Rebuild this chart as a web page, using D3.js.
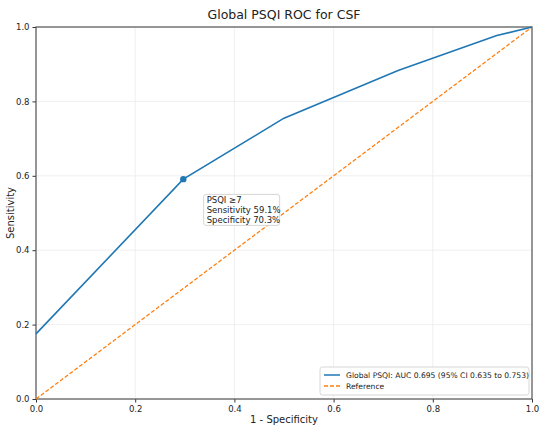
<!DOCTYPE html>
<head>
    <meta charset="utf-8">
    <script src="https://cdn.jsdelivr.net/npm/d3@7"></script>
    <style>
        body { margin: 0; background: #fff; }
        text { font-family: "DejaVu Sans", sans-serif; fill: #222; }
    </style>
</head>
<body>
    <div id="chart"></div>
    <script>
        const width = 550, height = 436;
        const margin = { top: 27, right: 18, bottom: 37, left: 36 };

        // ROC points (1 - specificity, sensitivity)
        const fpr = [0, 0.297, 0.5, 0.730, 0.929, 1];
        const tpr = [0.175, 0.591, 0.755, 0.883, 0.977, 1];
        const refX = [0, 1];
        const refY = [0, 1];
        const cutoff = { fpr: 0.297, tpr: 0.591 };
        const noteLines = ["PSQI \u22657", "Sensitivity 59.1%", "Specificity 70.3%"];
        const tickValues = [0, 0.2, 0.4, 0.6, 0.8, 1.0];
        const legendLabels = ["Global PSQI: AUC 0.695 (95% CI 0.635 to 0.753)", "Reference"];

        const blue = "#1f77b4", orange = "#ff7f0e";

        const svg = d3.select("#chart").append("svg")
            .attr("width", width)
            .attr("height", height);

        const x = d3.scaleLinear().domain([0, 1]).range([margin.left, width - margin.right]);
        const y = d3.scaleLinear().domain([0, 1]).range([height - margin.bottom, margin.top]);

        // grid
        svg.append("g").selectAll("line.gx").data(tickValues).enter().append("line")
            .attr("x1", d => x(d)).attr("x2", d => x(d))
            .attr("y1", y(0)).attr("y2", y(1))
            .attr("stroke", "#ebebeb").attr("stroke-width", 0.8);
        svg.append("g").selectAll("line.gy").data(tickValues).enter().append("line")
            .attr("y1", d => y(d)).attr("y2", d => y(d))
            .attr("x1", x(0)).attr("x2", x(1))
            .attr("stroke", "#ebebeb").attr("stroke-width", 0.8);

        // axes
        const xAxis = svg.append("g")
            .attr("transform", `translate(0,${y(0)})`)
            .call(d3.axisBottom(x).tickValues(tickValues).tickFormat(d3.format(".1f")).tickSize(3.5).tickPadding(3));
        const yAxis = svg.append("g")
            .attr("transform", `translate(${x(0)},0)`)
            .call(d3.axisLeft(y).tickValues(tickValues).tickFormat(d3.format(".1f")).tickSize(3.5).tickPadding(3));
        [xAxis, yAxis].forEach(a => {
            a.selectAll("text").style("font-size", "8.5px").style("font-family", "DejaVu Sans");
            a.selectAll("line").attr("stroke", "#333");
            a.select(".domain").remove();
        });

        // frame
        svg.append("rect")
            .attr("x", x(0)).attr("y", y(1))
            .attr("width", x(1) - x(0)).attr("height", y(0) - y(1))
            .attr("fill", "none").attr("stroke", "#555").attr("stroke-width", 1.2);

        // reference diagonal
        const line = d3.line().x(d => x(d[0])).y(d => y(d[1]));
        svg.append("path")
            .datum(d3.zip(refX, refY))
            .attr("d", line)
            .attr("fill", "none")
            .attr("stroke", orange).attr("stroke-width", 1.3)
            .attr("stroke-dasharray", "4,2");

        // ROC curve
        svg.append("path")
            .datum(d3.zip(fpr, tpr))
            .attr("d", line)
            .attr("fill", "none")
            .attr("stroke", blue).attr("stroke-width", 1.6);

        svg.append("circle")
            .attr("cx", x(cutoff.fpr)).attr("cy", y(cutoff.tpr))
            .attr("r", 3.2).attr("fill", blue);

        // annotation
        const note = svg.append("g").attr("transform", `translate(${x(0.338)},${y(0.55)})`);
        note.append("rect")
            .attr("x", 0).attr("y", 0).attr("width", 76).attr("height", 31)
            .attr("rx", 2.5).attr("fill", "#fff").attr("stroke", "#ccc").attr("stroke-width", 0.8);
        note.selectAll("text").data(noteLines).enter().append("text")
            .attr("x", 3).attr("y", (d, i) => 9 + i * 10)
            .style("font-size", "8.5px")
            .text(d => d);

        // legend
        const legend = svg.append("g").attr("transform", `translate(320,367)`);
        legend.append("rect")
            .attr("width", 209).attr("height", 28).attr("rx", 2.5)
            .attr("fill", "#fff").attr("stroke", "#ccc").attr("stroke-width", 0.8);
        legend.selectAll("line").data(legendLabels).enter().append("line")
            .attr("x1", 4).attr("x2", 20)
            .attr("y1", (d, i) => 8 + i * 11).attr("y2", (d, i) => 8 + i * 11)
            .attr("stroke", (d, i) => i === 0 ? blue : orange)
            .attr("stroke-width", 1.5)
            .attr("stroke-dasharray", (d, i) => i === 0 ? null : "4,2");
        legend.selectAll("text").data(legendLabels).enter().append("text")
            .attr("x", 26).attr("y", (d, i) => 11 + i * 11)
            .style("font-size", "7.6px")
            .text(d => d);

        // titles
        svg.append("text")
            .attr("x", (x(0) + x(1)) / 2).attr("y", 19)
            .attr("text-anchor", "middle")
            .style("font-size", "12.5px")
            .text("Global PSQI ROC for CSF");
        svg.append("text")
            .attr("x", (x(0) + x(1)) / 2).attr("y", 423)
            .attr("text-anchor", "middle")
            .style("font-size", "10px")
            .text("1 - Specificity");
        svg.append("text")
            .attr("transform", `translate(14,${(y(0) + y(1)) / 2}) rotate(-90)`)
            .attr("text-anchor", "middle")
            .style("font-size", "10px")
            .text("Sensitivity");
    </script>
</body>
